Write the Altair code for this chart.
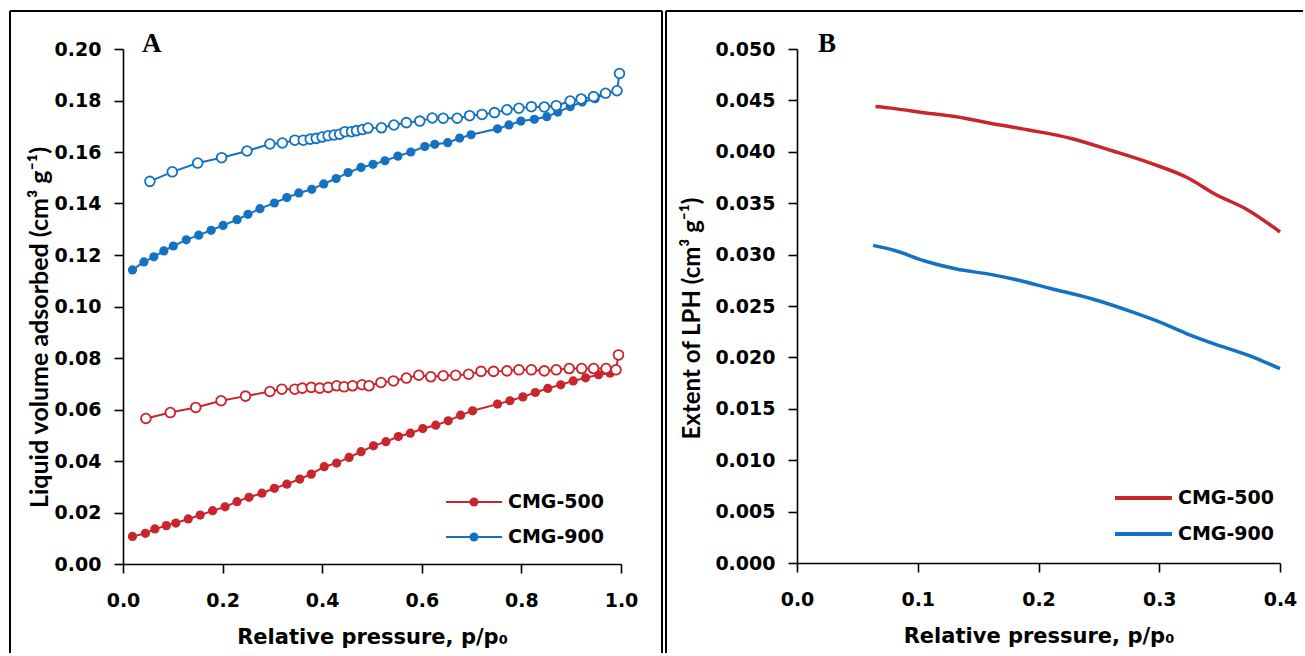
import altair as alt
import pandas as pd

SERIES = ["CMG-500", "CMG-900"]
RED = "#C9252C"
BLUE = "#1572C2"

# ---------- Panel A: liquid volume adsorbed ----------
p900_ads_x = [0.019, 0.042, 0.062, 0.082, 0.101, 0.127, 0.152, 0.177, 0.201, 0.229,
              0.251, 0.275, 0.304, 0.329, 0.353, 0.379, 0.403, 0.428, 0.452, 0.478,
              0.502, 0.526, 0.552, 0.578, 0.606, 0.626, 0.652, 0.676, 0.699, 0.752,
              0.775, 0.799, 0.826, 0.851, 0.873, 0.898, 0.922, 0.948, 0.969, 0.991]
p900_ads_y = [0.1142, 0.1173, 0.1193, 0.1216, 0.1235, 0.1259, 0.1277, 0.1296, 0.1315, 0.1337,
              0.1358, 0.1380, 0.1402, 0.1423, 0.1441, 0.1455, 0.1476, 0.1497, 0.1520, 0.1540,
              0.1552, 0.1566, 0.1584, 0.1600, 0.1621, 0.1630, 0.1636, 0.1654, 0.1667, 0.1690,
              0.1705, 0.1720, 0.1727, 0.1737, 0.1755, 0.1776, 0.1794, 0.1807, 0.1827, 0.1836]
p900_des_x = [0.054, 0.099, 0.150, 0.198, 0.249, 0.295, 0.320, 0.345, 0.362, 0.376,
              0.388, 0.400, 0.412, 0.424, 0.435, 0.446, 0.459, 0.469, 0.481, 0.492,
              0.519, 0.544, 0.569, 0.596, 0.621, 0.643, 0.671, 0.696, 0.721, 0.746,
              0.771, 0.795, 0.820, 0.846, 0.870, 0.898, 0.920, 0.945, 0.969, 0.992, 0.997]
p900_des_y = [0.1486, 0.1523, 0.1557, 0.1578, 0.1604, 0.1631, 0.1635, 0.1646, 0.1646, 0.1650,
              0.1653, 0.1658, 0.1663, 0.1666, 0.1669, 0.1679, 0.1679, 0.1683, 0.1687, 0.1693,
              0.1694, 0.1705, 0.1714, 0.1720, 0.1732, 0.1731, 0.1731, 0.1741, 0.1746, 0.1753,
              0.1764, 0.1770, 0.1776, 0.1775, 0.1780, 0.1798, 0.1806, 0.1815, 0.1828, 0.1838, 0.1905]
p500_ads_x = [0.019, 0.045, 0.064, 0.087, 0.106, 0.131, 0.155, 0.180, 0.205, 0.229,
              0.253, 0.279, 0.304, 0.329, 0.355, 0.378, 0.404, 0.429, 0.454, 0.478,
              0.503, 0.528, 0.553, 0.577, 0.602, 0.628, 0.653, 0.678, 0.702, 0.752,
              0.777, 0.803, 0.828, 0.853, 0.879, 0.904, 0.929, 0.955, 0.978, 0.989]
p500_ads_y = [0.0107, 0.0119, 0.0136, 0.0149, 0.0159, 0.0175, 0.0190, 0.0207, 0.0222, 0.0242,
              0.0259, 0.0275, 0.0294, 0.0310, 0.0330, 0.0349, 0.0378, 0.0392, 0.0414, 0.0436,
              0.0459, 0.0475, 0.0495, 0.0508, 0.0526, 0.0539, 0.0556, 0.0578, 0.0595, 0.0621,
              0.0634, 0.0649, 0.0666, 0.0682, 0.0696, 0.0711, 0.0723, 0.0735, 0.0741, 0.0754]
p500_des_x = [0.046, 0.095, 0.146, 0.197, 0.246, 0.295, 0.319, 0.345, 0.360, 0.378,
              0.395, 0.412, 0.429, 0.444, 0.461, 0.480, 0.494, 0.518, 0.543, 0.569,
              0.594, 0.618, 0.643, 0.668, 0.694, 0.719, 0.744, 0.771, 0.795, 0.820,
              0.846, 0.870, 0.896, 0.921, 0.945, 0.970, 0.990, 0.995]
p500_des_y = [0.0565, 0.0588, 0.0608, 0.0634, 0.0652, 0.0670, 0.0679, 0.0679, 0.0683, 0.0686,
              0.0683, 0.0686, 0.0692, 0.0688, 0.0692, 0.0696, 0.0692, 0.0705, 0.0711, 0.0722,
              0.0733, 0.0727, 0.0731, 0.0733, 0.0737, 0.0748, 0.0748, 0.0750, 0.0754, 0.0754,
              0.0750, 0.0754, 0.0759, 0.0759, 0.0759, 0.0759, 0.0754, 0.0812]

# ---------- Panel B: extent of LPH ----------
lph500_x = [0.065, 0.081, 0.105, 0.132, 0.159, 0.193, 0.227, 0.261, 0.295, 0.323, 0.346, 0.374, 0.400]
lph500_y = [0.0444, 0.0442, 0.0438, 0.0434, 0.0428, 0.0421, 0.0413, 0.0401, 0.0388, 0.0375, 0.0359, 0.0343, 0.0322]
lph900_x = [0.063, 0.081, 0.105, 0.132, 0.159, 0.180, 0.210, 0.244, 0.278, 0.299, 0.323, 0.346, 0.374, 0.400]
lph900_y = [0.0309, 0.0304, 0.0294, 0.0286, 0.0281, 0.0276, 0.0267, 0.0257, 0.0244, 0.0235, 0.0223, 0.0213, 0.0202, 0.0189]

xA_ticks = [0.0, 0.2, 0.4, 0.6, 0.8, 1.0]
yA_ticks = [0.00, 0.02, 0.04, 0.06, 0.08, 0.10, 0.12, 0.14, 0.16, 0.18, 0.20]
xB_ticks = [0.0, 0.1, 0.2, 0.3, 0.4]
yB_ticks = [0.000, 0.005, 0.010, 0.015, 0.020, 0.025, 0.030, 0.035, 0.040, 0.045, 0.050]


def frame(series, branch, xs, ys):
    return pd.DataFrame({"series": series, "branch": branch, "p": xs, "v": ys})


dfA = pd.concat([
    frame("CMG-500", "ads", p500_ads_x, p500_ads_y),
    frame("CMG-500", "des", p500_des_x, p500_des_y),
    frame("CMG-900", "ads", p900_ads_x, p900_ads_y),
    frame("CMG-900", "des", p900_des_x, p900_des_y),
], ignore_index=True)
dfB = pd.concat([
    frame("CMG-500", "lph", lph500_x, lph500_y),
    frame("CMG-900", "lph", lph900_x, lph900_y),
], ignore_index=True)

color = alt.Color("series:N", scale=alt.Scale(domain=SERIES, range=[RED, BLUE]), legend=None)
one = pd.DataFrame({"k": [0]})

TXT = "DejaVu Sans"


def vrule(x, y1, y2):
    return alt.Chart(one).mark_rule(color="black", strokeWidth=2).encode(
        x=alt.value(x), y=alt.value(y1), y2=alt.value(y2))


def hrule(y, x1, x2):
    return alt.Chart(one).mark_rule(color="black", strokeWidth=2).encode(
        y=alt.value(y), x=alt.value(x1), x2=alt.value(x2))


def label(txt, x, y, size, font, baseline="middle", weight="bold"):
    return alt.Chart(one).mark_text(
        align="left", baseline=baseline, font=font, fontSize=size, fontWeight=weight, color="black"
    ).encode(x=alt.value(x), y=alt.value(y), text=alt.value(txt))


def legend_row(name, col, y, x1, x2, xt, width, dot):
    layers = [alt.Chart(one).mark_rule(color=col, strokeWidth=width).encode(
        x=alt.value(x1), x2=alt.value(x2), y=alt.value(y))]
    if dot:
        layers.append(alt.Chart(one).mark_circle(color=col, size=80, opacity=1).encode(
            x=alt.value((x1 + x2) / 2), y=alt.value(y)))
    layers.append(label(name, xt, y, 19, TXT))
    return layers


# ----- Panel A -----
xA = alt.X("p:Q", scale=alt.Scale(domain=[0, 1], nice=False),
           axis=alt.Axis(values=xA_ticks, format=".1f", title="Relative pressure, p/p₀",
                         labelPadding=18, titlePadding=16, labelFlush=False))
yA = alt.Y("v:Q", scale=alt.Scale(domain=[0, 0.2], nice=False),
           axis=alt.Axis(values=yA_ticks, format=".2f", title="Liquid volume adsorbed (cm³ g⁻¹)",
                         titleFont="Lato", titleFontSize=25, labelPadding=13,
                         titleX=-71, titleY=278))

baseA = alt.Chart(dfA)
linesA = baseA.mark_line(strokeWidth=2).encode(x=xA, y=yA, color=color, detail="branch:N", order="p:Q")
filledA = baseA.transform_filter(alt.datum.branch == "ads").mark_circle(size=85, opacity=1).encode(
    x=xA, y=yA, color=color)
openA = baseA.transform_filter(alt.datum.branch == "des").mark_point(
    shape="circle", size=95, filled=False, fill="white", strokeWidth=1.8, opacity=1).encode(
    x=xA, y=yA, color=color)

panelA = alt.layer(
    linesA, filledA, openA,
    vrule(-113, -38, 604), hrule(-38, -113, 539), vrule(539, -38, 604),
    label("A", 19, 3, 27, "Liberation Serif", baseline="alphabetic"),
    *legend_row("CMG-500", RED, 453, 323, 379, 385, 2, True),
    *legend_row("CMG-900", BLUE, 488, 323, 379, 385, 2, True),
).properties(width=498, height=515)

# ----- Panel B -----
xB = alt.X("p:Q", scale=alt.Scale(domain=[0, 0.4], nice=False),
           axis=alt.Axis(values=xB_ticks, format=".1f", title="Relative pressure, p/p₀",
                         labelPadding=18, titlePadding=16, labelFlush=False))
yB = alt.Y("v:Q", scale=alt.Scale(domain=[0, 0.05], nice=False),
           axis=alt.Axis(values=yB_ticks, format=".3f", title="Extent of LPH (cm³ g⁻¹)",
                         titleFont="Lato", titleFontSize=24, labelPadding=13,
                         titleX=-93, titleY=269))

linesB = alt.Chart(dfB).mark_line(strokeWidth=3.5, interpolate="monotone").encode(
    x=xB, y=yB, color=color, order="p:Q")

panelB = alt.layer(
    linesB,
    vrule(-131, -38, 604), hrule(-38, -131, 506),
    label("B", 21, 3, 27, "Liberation Serif", baseline="alphabetic"),
    *legend_row("CMG-500", RED, 449, 318, 375, 381, 4, False),
    *legend_row("CMG-900", BLUE, 485, 318, 375, 381, 4, False),
).properties(width=483, height=514)

chart = alt.hconcat(panelA, panelB, spacing=2).properties(
    padding={"left": 9, "top": 10, "right": 0, "bottom": 0},
    background="white",
).configure_view(stroke=None).configure_axis(
    grid=False,
    domainColor="black", domainWidth=1.6,
    tickColor="black", tickWidth=1.6, tickSize=9,
    labelFont=TXT, labelFontWeight="bold", labelFontSize=19, labelColor="black",
    titleFont=TXT, titleFontWeight="bold", titleFontSize=21, titleColor="black",
)

chart.save("out.html", embed_options={"renderer": "svg", "actions": False})
